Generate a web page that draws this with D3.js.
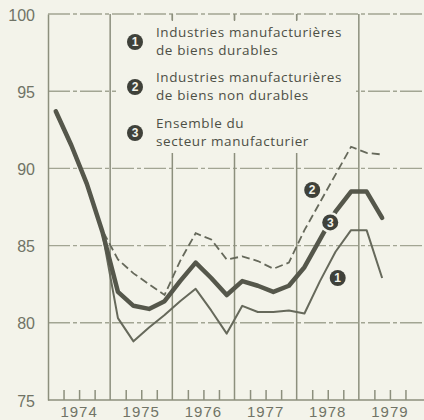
<!DOCTYPE html>
<html>
<head>
<meta charset="utf-8">
<script src="https://cdn.jsdelivr.net/npm/d3@7"></script>
<style>
    body { margin: 0; background: #f3f3ea; }
    svg { display: block; }
</style>
</head>
<body>
<svg id="chart" width="424" height="420"></svg>
<script>
var quarters = ['1974-1', '1974-2', '1974-3', '1974-4',
    '1975-1', '1975-2', '1975-3', '1975-4',
    '1976-1', '1976-2', '1976-3', '1976-4',
    '1977-1', '1977-2', '1977-3', '1977-4',
    '1978-1', '1978-2', '1978-3', '1978-4',
    '1979-1', '1979-2'];

var durables = [93.6, 91.4, 88.9, 85.8, 80.3, 78.8, 79.7, 80.5, 81.4, 82.2, 80.8, 79.3,
    81.1, 80.7, 80.7, 80.8, 80.6, 82.7, 84.6, 86.0, 86.0, 82.9];
var nonDurables = [93.8, 91.6, 89.1, 86.0, 84.1, 83.2, 82.5, 81.8, 84.0, 85.8, 85.4, 84.1,
    84.3, 84.0, 83.5, 83.9, 86.0, 87.8, 89.6, 91.4, 91.0, 90.9];
var ensemble = [93.7, 91.5, 89.0, 85.9, 82.0, 81.1, 80.9, 81.4, 82.7, 83.9, 82.9, 81.8,
    82.7, 82.4, 82.0, 82.4, 83.6, 85.4, 87.2, 88.5, 88.5, 86.8];

var years = [1974, 1975, 1976, 1977, 1978, 1979];
var yTicks = [75, 80, 85, 90, 95, 100];

// numbered callouts on the lines: [label, year position, value]
var callouts = [['1', 1978.66, 82.9], ['2', 1978.25, 88.6], ['3', 1978.54, 86.5]];

var legendLabels = [
    ['Industries manufacturières', 'de biens durables'],
    ['Industries manufacturières', 'de biens non durables'],
    ['Ensemble du', 'secteur manufacturier']
];

var GRID = '#a2a593',
    AXIS = '#8c8f7d',
    INK = '#55574b',
    BG = '#f3f3ea';

var svg = d3.select('#chart');

var x = d3.scaleLinear().domain([1974, 1980]).range([48, 421]);
var y = d3.scaleLinear().domain([75, 100]).range([400, 14]);

function qx(q) {
    var p = q.split('-');
    return x(+p[0] + (+p[1] - 0.5) / 4);
}

// horizontal grid
svg.append('g')
    .selectAll('line')
    .data(yTicks.slice(1))
    .enter().append('line')
    .attr('x1', x(1974)).attr('x2', 424)
    .attr('y1', function (d) { return y(d); })
    .attr('y2', function (d) { return y(d); })
    .style('stroke', GRID)
    .style('stroke-width', 1.4)
    .style('stroke-dasharray', '22,3,4,3');

// year gridlines
svg.append('g')
    .selectAll('line')
    .data(years.slice(1))
    .enter().append('line')
    .attr('x1', function (d) { return x(d); })
    .attr('x2', function (d) { return x(d); })
    .attr('y1', y(100)).attr('y2', y(75))
    .style('stroke', AXIS)
    .style('stroke-width', 1.5);

// legend area hides the grid behind it
svg.append('rect')
    .attr('x', 116).attr('y', 20)
    .attr('width', 240).attr('height', 133)
    .style('fill', BG);

// left and bottom axis
var yAxis = d3.axisLeft(y).tickValues(yTicks).tickSize(0).tickPadding(13);
svg.append('g')
    .attr('transform', 'translate(' + x(1974) + ',0)')
    .call(yAxis)
    .call(function (g) {
        g.select('.domain').style('stroke', AXIS).style('stroke-width', 1.5);
        g.selectAll('text')
            .attr('dy', '0.38em')
            .style('font-family', '"Liberation Sans", Arial, sans-serif')
            .style('font-size', '16px')
            .style('fill', '#707366');
    });

var qTicks = [];
years.forEach(function (yr) {
    [0.25, 0.5, 0.75].forEach(function (f) { qTicks.push(yr + f); });
});

var xAxis = d3.axisTop(x).tickValues(qTicks).tickSize(10).tickFormat('');
svg.append('g')
    .attr('transform', 'translate(0,' + y(75) + ')')
    .call(xAxis)
    .call(function (g) {
        g.select('.domain').remove();
        g.selectAll('line').style('stroke', AXIS).style('stroke-width', 1.5);
    });

svg.append('line')
    .attr('x1', x(1974)).attr('x2', 424)
    .attr('y1', y(75)).attr('y2', y(75))
    .style('stroke', AXIS)
    .style('stroke-width', 1.6);

svg.append('g')
    .selectAll('text')
    .data(years)
    .enter().append('text')
    .attr('x', function (d) { return x(d + 0.5); })
    .attr('y', 417)
    .attr('text-anchor', 'middle')
    .style('font-family', '"Liberation Sans", Arial, sans-serif')
    .style('font-size', '15px')
    .style('letter-spacing', '1px')
    .style('fill', '#707366')
    .text(function (d) { return d; });

// small ticks along the top where the legend hides the grid
svg.append('g')
    .selectAll('line')
    .data([1976, 1977, 1978])
    .enter().append('line')
    .attr('x1', function (d) { return x(d); })
    .attr('x2', function (d) { return x(d); })
    .attr('y1', y(100)).attr('y2', y(100) + 7)
    .style('stroke', AXIS)
    .style('stroke-width', 1.3);

// series
function line(values) {
    return d3.line()
        .x(function (d, i) { return qx(quarters[i]); })
        .y(function (d) { return y(d); })(values);
}

svg.append('path')
    .attr('d', line(nonDurables))
    .style('fill', 'none')
    .style('stroke', '#66695b')
    .style('stroke-width', 1.8)
    .style('stroke-dasharray', '8,4');

svg.append('path')
    .attr('d', line(durables))
    .style('fill', 'none')
    .style('stroke', '#66695b')
    .style('stroke-width', 2)
    .style('stroke-linejoin', 'round');

svg.append('path')
    .attr('d', line(ensemble))
    .style('fill', 'none')
    .style('stroke', INK)
    .style('stroke-width', 4.5)
    .style('stroke-linejoin', 'round')
    .style('stroke-linecap', 'round');

function badge(g, label) {
    g.append('circle')
        .attr('r', 10.5)
        .style('fill', BG);
    g.append('circle')
        .attr('r', 8)
        .style('fill', '#3f413a');
    g.append('text')
        .attr('text-anchor', 'middle')
        .attr('dy', '0.36em')
        .style('font-family', '"Liberation Sans", Arial, sans-serif')
        .style('font-weight', 'bold')
        .style('font-size', '12px')
        .style('fill', '#f3f3ea')
        .text(label);
}

svg.append('g')
    .selectAll('g')
    .data(callouts)
    .enter().append('g')
    .attr('transform', function (d) { return 'translate(' + x(d[1]) + ',' + y(d[2]) + ')'; })
    .each(function (d) { badge(d3.select(this), d[0]); });

// legend
var legend = svg.append('g').attr('class', 'legend');
var legendItem = legend.selectAll('.item')
    .data(legendLabels)
    .enter().append('g')
    .attr('class', 'item')
    .attr('transform', function (d, i) {
        return 'translate(0,' + [0, 45, 91][i] + ')';
    });

legendItem.append('g')
    .attr('transform', 'translate(135,42)')
    .each(function (d, i) { badge(d3.select(this), String(i + 1)); });

legendItem.append('text')
    .attr('x', 156)
    .attr('y', 37)
    .style('font-family', '"Open Sans", sans-serif')
    .style('font-size', '13.5px')
    .style('letter-spacing', '0.6px')
    .style('fill', '#4d4f45')
    .selectAll('tspan')
    .data(function (d) { return d; })
    .enter().append('tspan')
    .attr('x', 156)
    .attr('dy', function (d, i) { return i ? 18 : 0; })
    .text(function (d) { return d; });
</script>
</body>
</html>
